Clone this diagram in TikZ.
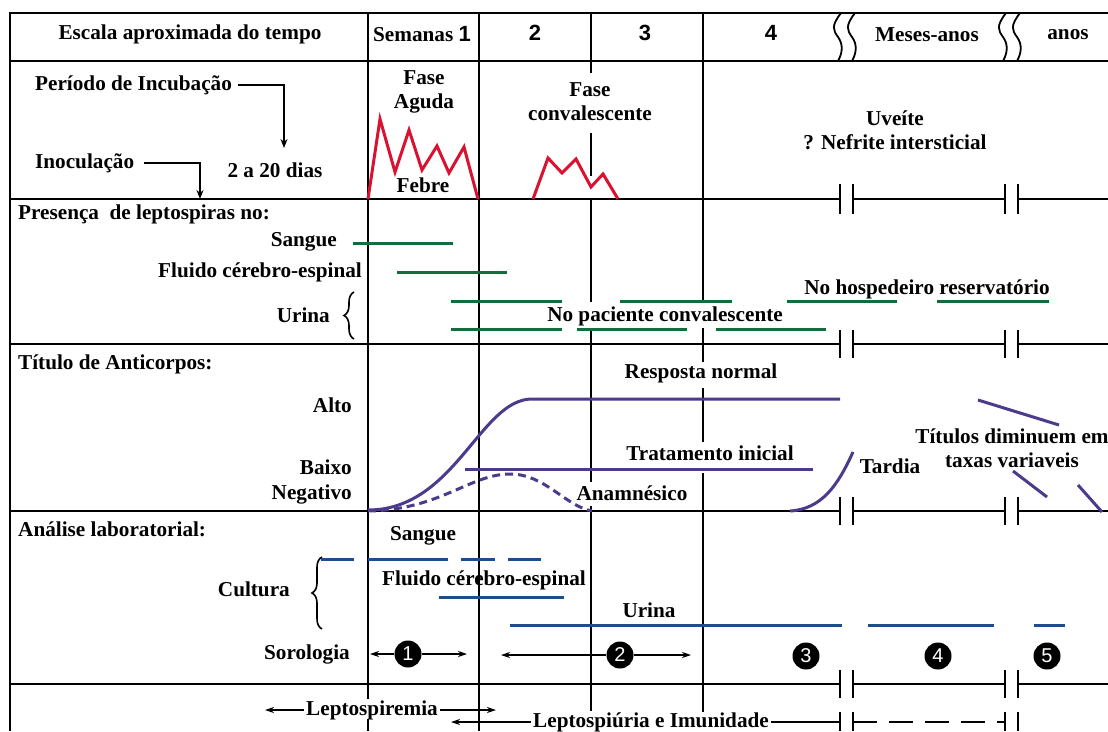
\documentclass[tikz,border=0pt]{standalone}
\usepackage{fontspec}
\setmainfont{Liberation Serif}
\newfontfamily\sansnum{Liberation Sans}
\usetikzlibrary{arrows.meta,decorations.pathreplacing}
\definecolor{cred}{RGB}{218,18,50}
\definecolor{cgreen}{RGB}{16,110,60}
\definecolor{cpurp}{RGB}{76,58,140}
\definecolor{cblue}{RGB}{28,78,142}
\begin{document}
\begin{tikzpicture}[x=1pt,y=-1pt,
  grid/.style={line width=2pt,black},
  lbl/.style={font=\bfseries\fontsize{21.2}{24}\selectfont,inner sep=0pt,text=black},
  hnum/.style={font=\sansnum\bfseries\fontsize{22}{24}\selectfont,inner sep=0pt},
  redc/.style={line width=3pt,cred},
  grn/.style={line width=3pt,cgreen},
  pur/.style={line width=3pt,cpurp},
  blu/.style={line width=3pt,cblue},
  arr/.style={line width=1.5pt,-{Stealth[length=9pt,width=7pt]}},
  sarr/.style={line width=1.3pt,-{Stealth[length=9pt,width=6pt]}},
  circ/.style={circle,fill=black,minimum size=27pt,inner sep=0pt,text=white,font=\sansnum\fontsize{20}{20}\selectfont},
  brc/.style={decorate,decoration={brace,amplitude=10pt},line width=1.6pt}
]
\useasboundingbox (0,0) rectangle (1108,731);
\fill[white] (0,0) rectangle (1108,731);

% ---- grid ----
\draw[grid] (1108,13) -- (10,13) -- (10,731);
\draw[grid] (10,61) -- (1108,61);
\foreach \yy/\tk in {199/15,344/14,511/14,684/14}{
  \draw[grid] (10,\yy) -- (840,\yy);
  \draw[grid] (853,\yy) -- (1005,\yy);
  \draw[grid] (1018,\yy) -- (1108,\yy);
  \foreach \xx in {840,853,1005,1018}{
    \draw[grid] (\xx,\yy-\tk) -- (\xx,\yy+\tk);
  }
}
% verticals
\draw[grid] (368,13) -- (368,699);
\draw[grid] (368,719) -- (368,731);
\draw[grid] (479,13) -- (479,731);
\draw[grid] (591,13) -- (591,73);
\draw[grid] (591,133) -- (591,176);
\draw[grid] (591,199) -- (591,302);
\draw[grid] (591,328) -- (591,482);
\draw[grid] (591,506) -- (591,711);
\draw[grid] (703,13) -- (703,302);
\draw[grid] (703,328) -- (703,362);
\draw[grid] (703,388) -- (703,442);
\draw[grid] (703,473) -- (703,712);
% header wavy breaks
\foreach \xx in {841,855,1006,1020}{
  \draw[line width=1.8pt] (\xx,13) .. controls (\xx-10,26) and (\xx-8,30) .. (\xx-3,37)
     .. controls (\xx+2,44) and (\xx+2,52) .. (\xx-3,61);
}

% ---- header ----
\node[lbl] (esc) at (190,34) {Escala aproximada do tempo};
\node[lbl] (sem) at (422,34) {Semanas {\sansnum\fontsize{22}{24}\selectfont 1}};
\node[hnum] (w2) at (535,33) {2};
\node[hnum] (w3) at (645,33) {3};
\node[hnum] (w4) at (771,33) {4};
\node[lbl] (meses) at (927,35) {Meses-anos};
\node[lbl] (anos) at (1068,35) {anos};

% ---- incubation row ----
\node[lbl,anchor=west] (incub) at (35,85) {Período de Incubação};
\node[lbl,anchor=west] (inoc) at (35,163) {Inoculação};
\node[lbl] (dias) at (275,170) {2 a 20 dias};
\coordinate (incA) at (284,85);
\coordinate (incB) at (284,148);
\coordinate (inoA) at (200,163);
\coordinate (inoB) at (200,199);
\draw[arr] ([xshift=6pt]incub.east) -- (incA) -- (incB);
\draw[arr] ([xshift=10pt]inoc.east) -- (inoA) -- (inoB);
\node[lbl,align=center] (aguda) at (424,92) {Fase\\Aguda};
\node[lbl] (febre) at (423,185) {Febre};
\node[lbl,align=center] (conv) at (590,102) {Fase\\convalescente};
\node[lbl,align=center] (uve) at (895,130) {Uveíte\\? Nefrite intersticial};
\draw[redc] (368,199) -- (380,119) -- (395,172) -- (409,130) -- (422,170) -- (437,146) -- (449,173) -- (464,147) -- (478,199);
\draw[redc] (533,199) -- (548,158) -- (562,173) -- (576,159) -- (591,187) -- (603,174) -- (618,199);

% ---- leptospiras row ----
\node[lbl,anchor=west] (pres) at (18,214) {Presença\ \ de leptospiras no:};
\node[lbl,anchor=east] (sang1) at (337,242) {Sangue};
\node[lbl,anchor=east] (lcr1) at (362,272) {Fluido cérebro-espinal};
\node[lbl,anchor=east] (uri1) at (330,315) {Urina};
\draw[brc] (354,339) -- (354,292);
\draw[grn] (353,243) -- (453,243);
\draw[grn] (397,272) -- (507,272);
\foreach \a/\b in {451/562,620/732,787/897,937/1049}{\draw[grn] (\a,301) -- (\b,301);}
\foreach \a/\b in {451/562,577/687,716/826}{\draw[grn] (\a,329) -- (\b,329);}
\node[lbl] (host) at (927,289) {No hospedeiro reservatório};
\node[lbl] (pac) at (665,316) {No paciente convalescente};

% ---- antibodies row ----
\node[lbl,anchor=west] (tit) at (18,364) {Título de Anticorpos:};
\node[lbl,anchor=east] (alto) at (352,405) {Alto};
\node[lbl,anchor=east] (baixo) at (352,467) {Baixo};
\node[lbl,anchor=east] (neg) at (352,494) {Negativo};
\draw[pur] (368,510) .. controls (455,510) and (480,399) .. (532,399) -- (840,399);
\draw[pur] (465,469) -- (813,469);
\draw[pur,dashed,dash pattern=on 8pt off 5pt] (368,511) .. controls (440,510) and (470,474) .. (510,474)
   .. controls (545,474) and (565,506) .. (592,511);
\draw[pur] (790,511) .. controls (822,509) and (838,485) .. (853,452);
\draw[pur] (978,400) -- (1059,425);
\draw[pur] (1013,471) -- (1047,497);
\draw[pur] (1078,485) -- (1102,512);
\node[lbl] (resp) at (701,373) {Resposta normal};
\node[lbl] (trat) at (710,453) {Tratamento inicial};
\node[lbl] (anam) at (632,493) {Anamnésico};
\node[lbl] (tard) at (890,466) {Tardia};
\node[lbl,align=center] (dimi) at (1012,448) {Títulos diminuem em\\taxas variaveis};

% ---- laboratory row ----
\node[lbl,anchor=west] (anal) at (18,529) {Análise laboratorial:};
\node[lbl] (sang2) at (423,536) {Sangue};
\node[lbl,anchor=east] (cult) at (290,589) {Cultura};
\draw[brc] (322,629) -- (322,557);
\node[lbl] (lcr2) at (484,580) {Fluido cérebro-espinal};
\node[lbl] (uri2) at (649,610) {Urina};
\node[lbl,anchor=east] (soro) at (350,654) {Sorologia};
\foreach \a/\b in {321/354,368/448,461/495,508/541}{\draw[blu] (\a,559) -- (\b,559);}
\draw[blu] (439,597) -- (564,597);
\foreach \a/\b in {510/842,868/994,1034/1065}{\draw[blu] (\a,625) -- (\b,625);}
\node[circ] (c1) at (408,654) {1};
\node[circ] (c2) at (620,655) {2};
\node[circ] (c3) at (806,656) {3};
\node[circ] (c4) at (938,656) {4};
\node[circ] (c5) at (1047,656) {5};
\coordinate (c1l) at (370,654);
\coordinate (c1r) at (467,654);
\coordinate (c2l) at (501,655);
\coordinate (c2r) at (691,655);
\draw[sarr] (c1.west) -- (c1l);
\draw[sarr] (c1.east) -- (c1r);
\draw[sarr] (c2.west) -- (c2l);
\draw[sarr] (c2.east) -- (c2r);

% ---- bottom ----
\node[lbl] (lspm) at (372,710) {Leptospiremia};
\node[lbl] (lspu) at (651,722) {Leptospiúria e Imunidade};
\coordinate (lspmL) at (265,710);
\coordinate (lspmR) at (496,710);
\coordinate (lspuL) at (451,722);
\coordinate (lspuR) at (840,722);
\coordinate (lspuD) at (853,722);
\coordinate (lspuE) at (1005,722);
\draw[sarr] ([xshift=-2pt]lspm.west) -- (lspmL);
\draw[sarr] ([xshift=2pt]lspm.east) -- (lspmR);
\draw[sarr] ([xshift=-2pt]lspu.west) -- (lspuL);
\draw[line width=1.5pt] ([xshift=2pt]lspu.east) -- (lspuR);
\draw[line width=1.5pt,dash pattern=on 24pt off 12pt] (lspuD) -- (lspuE);
\foreach \xx in {840,853,1005,1018}{\draw[grid] (\xx,712) -- (\xx,731);}
\end{tikzpicture}
\end{document}
